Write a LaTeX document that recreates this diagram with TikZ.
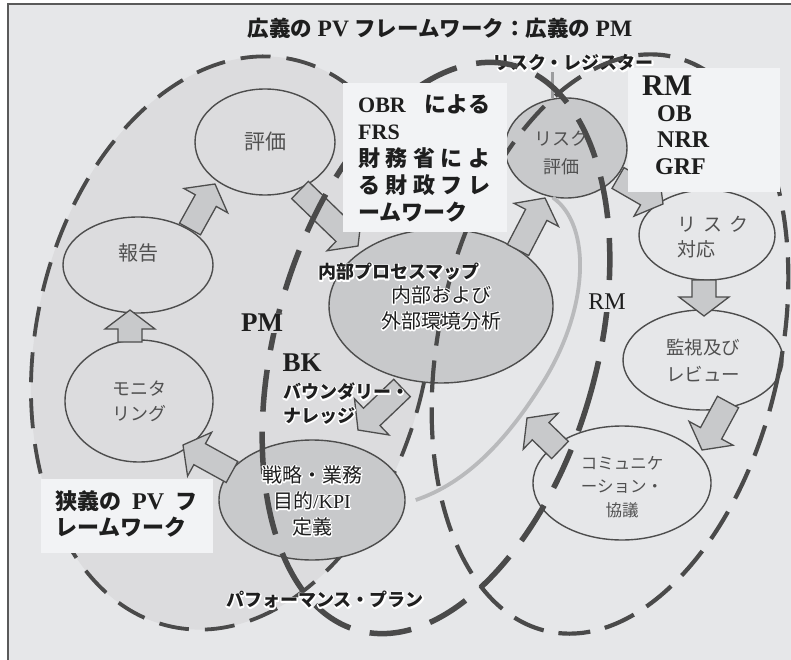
\documentclass[tikz,border=0pt]{standalone}
\usepackage{fontspec}
\setmainfont{Liberation Serif}
\newfontfamily\jp{Noto Sans CJK JP}
\usetikzlibrary{calc,shapes.geometric}
\definecolor{bgc}{HTML}{E6E7E9}
\definecolor{lfill}{HTML}{DCDCDE}
\definecolor{dfill}{HTML}{C8C9CB}
\definecolor{boxc}{HTML}{F2F3F5}
\definecolor{dashc}{HTML}{4A4A4A}
\definecolor{linec}{HTML}{4D4D4D}
\definecolor{txtc}{HTML}{1E1E1E}
\definecolor{ntxt}{HTML}{505050}
\definecolor{curvec}{HTML}{B9BABC}
\definecolor{regc}{HTML}{9C9D9F}
\definecolor{framec}{HTML}{5A5A5A}
% white outline behind text: stroke-only copy drawn with text render mode 1
\newcommand\halo[1]{\leavevmode\rlap{\special{pdf:literal direct 1 1 1 RG 2.6 w 1 j 1 J 1 Tr}#1\special{pdf:literal direct 0 Tr}}#1}
\newcommand\blockarrow[2]{%
 \coordinate (bh) at ($(#2)!19pt!(#1)$);
 \draw[barrow] ($(#1)!12pt!-90:(#2)$) -- ($(bh)!12pt!90:(#1)$) -- ($(bh)!25pt!90:(#1)$) -- (#2)
   -- ($(bh)!25pt!-90:(#1)$) -- ($(bh)!12pt!-90:(#1)$) -- ($(#1)!12pt!90:(#2)$) -- cycle;}
\tikzset{
 ldash/.style={draw=dashc, line width=3.8pt, dash pattern=on 30pt off 16pt},
 pdash/.style={draw=dashc, line width=5.5pt, dash pattern=on 42pt off 20pt},
 rdash/.style={draw=dashc, line width=4.2pt, dash pattern=on 32pt off 15pt},
 ellnode/.style={ellipse, draw=linec, line width=1.4pt, inner sep=0pt},
 darkell/.style={ellnode, fill=dfill},
 ntext/.style={text=ntxt, font=\jp\fontsize{19}{27}\selectfont, align=center, inner sep=0pt},
 htext/.style={text=txtc, font=\jp\fontsize{20}{26}\selectfont, align=center, inner sep=0pt},
 hbold/.style={text=txtc, font=\jp\bfseries\fontsize{18}{25}\selectfont, align=left, inner sep=0pt},
 barrow/.style={fill=dfill, draw=linec, line width=1.3pt, line join=miter},
 boxst/.style={rectangle, fill=boxc, inner sep=0pt},
 lab/.style={text=txtc, inner sep=0pt},
 curveline/.style={draw=curvec, line width=3.8pt},
 regline/.style={draw=regc, line width=2.6pt},
}
\begin{document}
\begin{tikzpicture}[x=1pt,y=-1pt]
\path[use as bounding box] (0,0) rectangle (791,660);
\clip (0,0) rectangle (791,660);
\fill[white] (0,0) rectangle (791,660);
\draw[framec, line width=2pt, fill=bgc] (8,4) rectangle (800,670);

% narrow PV framework region
\draw[ldash, fill=lfill, rotate around={-12:(232,343)}] (232,343) ellipse [x radius=196, y radius=290];

% ellipse nodes (shapes)
\node[ellnode, minimum width=140pt, minimum height=106pt] (hyoka) at (265,142) {};
\node[ellnode, minimum width=150pt, minimum height=96pt] (hokoku) at (138,265) {};
\node[ellnode, minimum width=148pt, minimum height=122pt] (monitor) at (139,401) {};
\node[darkell, minimum width=186pt, minimum height=120pt] (senryaku) at (312,500) {};
\node[darkell, minimum width=224pt, minimum height=154pt] (naibu) at (441,306) {};
\node[darkell, minimum width=122pt, minimum height=100pt] (riskeval) at (566,148) {};
\node[ellnode, minimum width=136pt, minimum height=90pt] (riskresp) at (707,235) {};
\node[ellnode, minimum width=160pt, minimum height=100pt] (kanshi) at (703,360) {};
\node[ellnode, minimum width=178pt, minimum height=114pt] (komyu) at (622,483) {};

% register label (needed for line)
\node[hbold] (regt) at (573,63) {\halo{リスク・レジスター}};

% grey connectors
\draw[curveline] (riskeval.255) .. controls (592,225) and (590,310) .. (540,387)
  .. controls (500,450) and (460,485) .. ([xshift=10pt]senryaku.east);
\draw[regline] (riskeval.105) -- (riskeval.105 |- regt.south);

% block arrows
\coordinate (a1s) at (130,342); \coordinate (a1e) at (130,310);
\coordinate (a2s) at (190,229); \coordinate (a2e) at (215,184);
\coordinate (a3s) at (300,190); \coordinate (a3e) at (358,246);
\coordinate (a4s) at (518,250); \coordinate (a4e) at (545,198);
\coordinate (a5s) at (618,178); \coordinate (a5e) at (663,204);
\coordinate (a6s) at (704,280); \coordinate (a6e) at (704,316);
\coordinate (a7s) at (728,402); \coordinate (a7e) at (702,450);
\coordinate (a8s) at (560,450); \coordinate (a8e) at (527,418);
\coordinate (a9s) at (232,472); \coordinate (a9e) at (183,445);
\coordinate (a10s) at (402,388); \coordinate (a10e) at (358,430);
\blockarrow{a1s}{a1e}
\blockarrow{a2s}{a2e}
\blockarrow{a3s}{a3e}
\blockarrow{a4s}{a4e}
\blockarrow{a5s}{a5e}
\blockarrow{a6s}{a6e}
\blockarrow{a7s}{a7e}
\blockarrow{a8s}{a8e}
\blockarrow{a9s}{a9e}
\blockarrow{a10s}{a10e}

% PM and RM dashed regions
\draw[pdash, rotate around={-15.5:(436,348)}] (436,348) ellipse [x radius=161, y radius=293];
\draw[rdash, rotate around={-12.2:(610,344)}] (610,344) ellipse [x radius=171, y radius=294];

% boxes
\node[boxst, minimum width=164pt, minimum height=149pt] (obr) at (425,157.5) {};
\node[lab, anchor=west, align=left, font=\bfseries\fontsize{22}{27}\selectfont] (obrt) at (358,158)
 {\makebox[132pt][l]{OBR\hfill{\jp による}}\\FRS\\
  \makebox[132pt][l]{\jp 財\hfill 務\hfill 省\hfill に\hfill よ}\\
  \makebox[132pt][l]{\jp る\hfill 財\hfill 政\hfill フ\hfill レ}\\
  {\jp ームワーク}};
\node[boxst, minimum width=152pt, minimum height=124pt] (rmbox) at (704,130) {};
\node[lab, anchor=west, font=\bfseries\fontsize{30}{30}\selectfont] (rmt) at (642,86) {RM};
\node[lab, anchor=west, font=\bfseries\fontsize{24}{24}\selectfont] (obt) at (657,114) {OB};
\node[lab, anchor=west, font=\bfseries\fontsize{24}{24}\selectfont] (nrrt) at (657,140) {NRR};
\node[lab, anchor=west, font=\bfseries\fontsize{24}{24}\selectfont] (grft) at (655,167) {GRF};
\node[boxst, minimum width=172pt, minimum height=74pt] (kyogi) at (127,516) {};
\node[lab, anchor=west, align=left, font=\bfseries\fontsize{22}{26}\selectfont] (kyogit) at (55,514)
 {\makebox[142pt][l]{{\jp 狭義の}\hfill{\fontsize{24}{26}\selectfont PV}\hfill{\jp フ}}\\{\jp レームワーク}};

% node texts
\node[ntext, font=\jp\fontsize{21}{27}\selectfont] (hyokat) at (hyoka) {評価};
\node[ntext, font=\jp\fontsize{20}{27}\selectfont] (hokokut) at ([yshift=12pt]hokoku.center) {報告};
\node[ntext, font=\jp\fontsize{18}{25}\selectfont] (monitort) at (monitor) {モニタ\\リング};
\node[ntext, font=\jp\fontsize{18}{28}\selectfont] (riskevalt) at ([xshift=-5pt,yshift=-5pt]riskeval.center) {リスク\\評価};
\node[ntext, align=left, font=\jp\fontsize{19}{25}\selectfont] (riskrespt) at ([xshift=6pt,yshift=-2pt]riskresp.center) {リ\hspace{7pt}ス\hspace{7pt}ク\\対応};
\node[ntext, font=\jp\fontsize{18.5}{27}\selectfont] (kanshit) at (kanshi) {監視及び\\レビュー};
\node[ntext, font=\jp\fontsize{16.5}{23.5}\selectfont] (komyut) at ([yshift=-4pt]komyu.center) {コミュニケ\\ーション・\\協議};
\node[htext] (senryakut) at ([yshift=-1pt]senryaku.center) {\halo{戦略・業務}\\\halo{目的\rmfamily /KPI}\\\halo{定義}};
\node[htext] (naibut) at ([yshift=-2pt]naibu.center) {\halo{内部および}\\\halo{外部環境分析}};

% labels
\node[lab, font=\bfseries\fontsize{21.5}{26}\selectfont] (title) at (440,28) {{\jp 広義の} {\fontsize{23.5}{26}\selectfont PV} {\jp フレームワーク：広義の} {\fontsize{23.5}{26}\selectfont PM}};
\node[hbold] (naibul) at (399,272) {\halo{内部プロセスマップ}};
\node[lab, fill=lfill, inner sep=1pt, font=\bfseries\fontsize{27}{27}\selectfont] (pml) at (262,323) {PM};
\node[lab, font=\bfseries\fontsize{27}{27}\selectfont] (bkl) at (302,363) {BK};
\node[hbold, anchor=west] (bk1) at (283,392) {\halo{バウンダリー・}};
\node[hbold, anchor=west] (bk2) at (283,416) {\halo{ナレッジ}};
\node[lab, fill=bgc, inner sep=2pt, font=\fontsize{24}{24}\selectfont] (rml) at (607,302) {RM};
\node[hbold] (pfl) at (325,600) {\halo{パフォーマンス・プラン}};
\end{tikzpicture}
\end{document}
